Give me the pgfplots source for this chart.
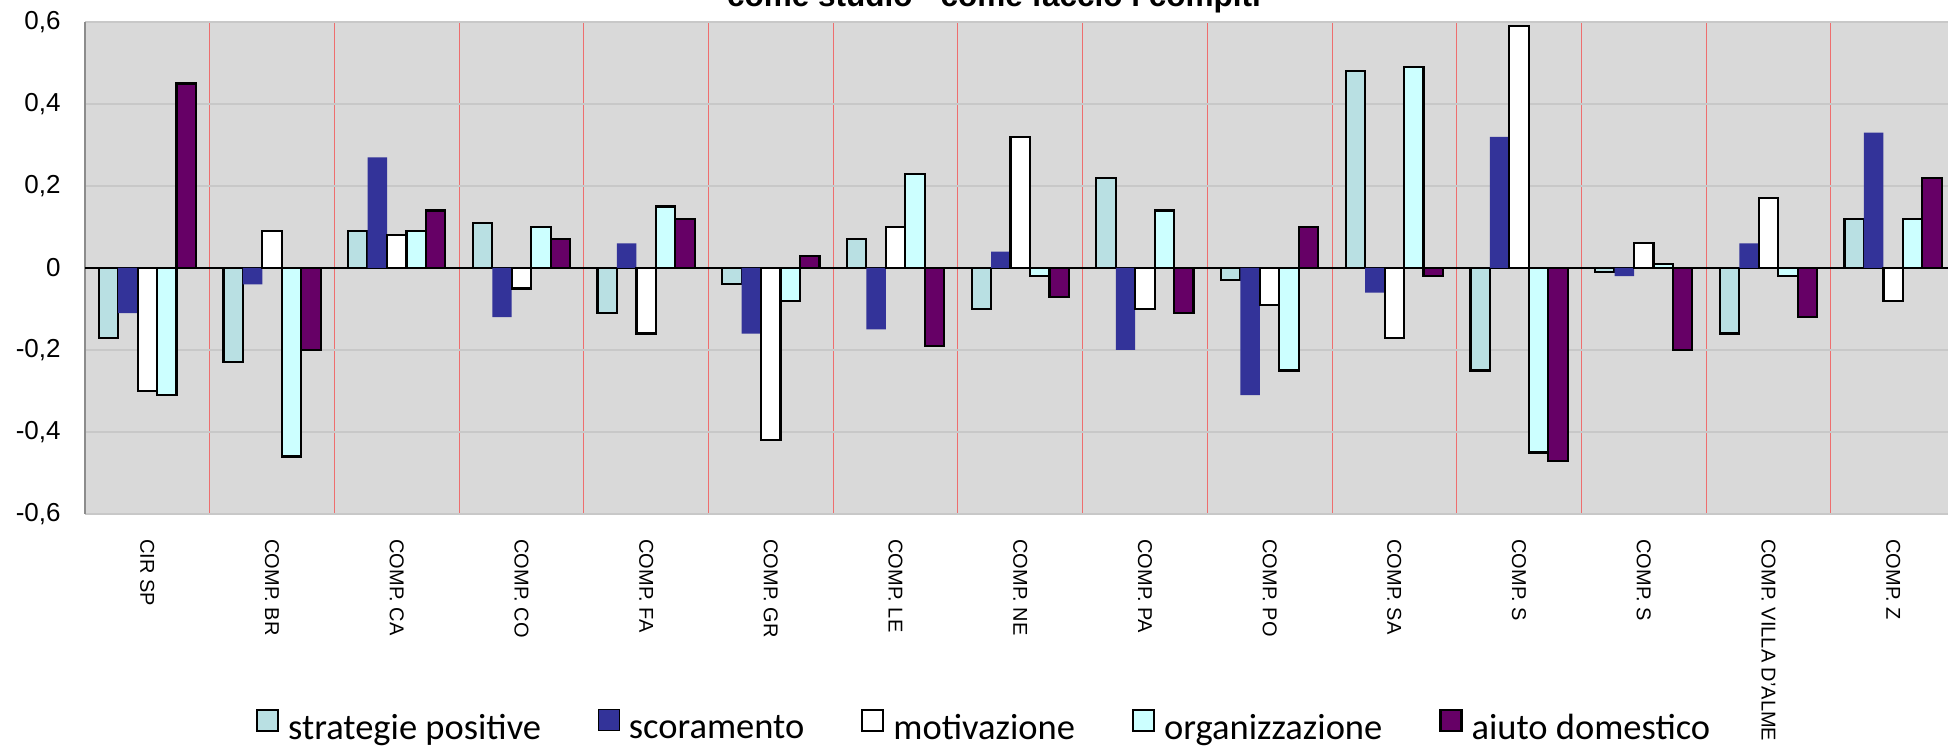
\documentclass[border=0pt]{standalone}
\usepackage{pgfplots}
\pgfplotsset{compat=1.18}
\usepackage{pgfplotstable}
\usepackage{fontspec}
\setmainfont{Liberation Sans}
\newfontfamily\legendfont{Carlito}
\definecolor{cSP}{HTML}{B9E0E3}
\definecolor{cSC}{HTML}{333399}
\definecolor{cOR}{HTML}{CCFFFF}
\definecolor{cAD}{HTML}{660066}
\definecolor{plotbg}{HTML}{D9D9D9}
\definecolor{gridc}{HTML}{C8C8C8}
\definecolor{sepred}{HTML}{EE6E6E}
\definecolor{axisgray}{HTML}{8C8C8C}

\pgfplotstableread{
x sp sc mo org ad
0 -0.17 -0.11 -0.30 -0.31 0.45
1 -0.23 -0.04 0.09 -0.46 -0.20
2 0.09 0.27 0.08 0.09 0.14
3 0.11 -0.12 -0.05 0.10 0.07
4 -0.11 0.06 -0.16 0.15 0.12
5 -0.04 -0.16 -0.42 -0.08 0.03
6 0.07 -0.15 0.10 0.23 -0.19
7 -0.10 0.04 0.32 -0.02 -0.07
8 0.22 -0.20 -0.10 0.14 -0.11
9 -0.03 -0.31 -0.09 -0.25 0.10
10 0.48 -0.06 -0.17 0.49 -0.02
11 -0.25 0.32 0.59 -0.45 -0.47
12 -0.01 -0.02 0.06 0.01 -0.20
13 -0.16 0.06 0.17 -0.02 -0.12
14 0.12 0.33 -0.08 0.12 0.22
}\data

\pgfplotsset{mylegend/.style={legend image code/.code={\draw[##1] (0pt,-1pt) rectangle (10.5pt,9.5pt);}}}

\begin{document}
\begin{tikzpicture}
\useasboundingbox (0pt,0pt) rectangle (974pt,374pt);
\clip (0pt,0pt) rectangle (974pt,374pt);
\begin{axis}[
  at={(42.5pt,117pt)}, anchor=south west,
  scale only axis, width=931.5pt, height=246pt,
  xmin=-0.5, xmax=14.44, ymin=-0.6, ymax=0.6,
  ybar, bar width=0.156,
  axis background/.style={fill=plotbg},
  axis y line*=left, axis x line*=bottom,
  x axis line style={draw=none},
  y axis line style={draw=axisgray, line width=0.8pt},
  ytick={-0.6,-0.4,-0.2,0,0.2,0.4,0.6},
  ymajorgrids, major grid style={draw=gridc, line width=0.8pt},
  extra y ticks={0}, extra y tick labels={},
  extra y tick style={ymajorgrids=true, major grid style={draw=black, line width=0.8pt}},
  xtick={0,1,2,3,4,5,6,7,8,9,10,11,12,13,14},
  xticklabels={CIR SP, COMP. BR, COMP. CA, COMP. CO, COMP. FA, COMP. GR, COMP. LE, COMP. NE, COMP. PA, COMP. PO, COMP. SA, COMP. S, COMP. S, {COMP. VILLA D'ALME}, COMP. Z},
  minor xtick={0.5,1.5,2.5,3.5,4.5,5.5,6.5,7.5,8.5,9.5,10.5,11.5,12.5,13.5},
  xminorgrids, minor grid style={draw=sepred, line width=0.5pt},
  major tick length=0pt, minor tick length=0pt,
  xticklabel style={rotate=-90, anchor=west, inner xsep=12.5pt, inner ysep=0pt, font=\fontsize{10}{12}\selectfont},
  yticklabel style={anchor=east, inner xsep=12pt, inner ysep=0pt, font=\fontsize{13}{15}\selectfont,
    /pgf/number format/.cd, fixed, precision=1, use comma, assume math mode=true},
  legend columns=-1,
  legend style={draw=none, fill=none, inner sep=0pt, outer sep=0pt,
    at={(0.0918,-0.4303)}, anchor=west,
    font=\legendfont\fontsize{18.25}{21}\selectfont,
    nodes={inner sep=0pt},
    /tikz/every odd column/.append style={column sep=4.5pt},
    /tikz/every even column/.append style={column sep=28.5pt}},
  legend cell align=left,
]
\addplot[fill=cSP, draw=black, line width=1.1pt, bar shift=-0.312, mylegend] table[x=x, y=sp] {\data};
\addlegendentry{strategie positive}
\addplot[fill=cSC, draw=none, bar shift=-0.156, mylegend] table[x=x, y=sc] {\data};
\addlegendentry{scoramento}
\addplot[fill=white, draw=black, line width=1.1pt, bar shift=0, mylegend] table[x=x, y=mo] {\data};
\addlegendentry{motivazione}
\addplot[fill=cOR, draw=black, line width=1.1pt, bar shift=0.156, mylegend] table[x=x, y=org] {\data};
\addlegendentry{organizzazione}
\addplot[fill=cAD, draw=black, line width=1.1pt, bar shift=0.312, mylegend] table[x=x, y=ad] {\data};
\addlegendentry{aiuto domestico}
\end{axis}
\node[anchor=base, font=\bfseries\fontsize{15.75}{18}\selectfont] at (497pt,370.75pt) {come studio - come faccio i compiti};
\end{tikzpicture}
\end{document}
